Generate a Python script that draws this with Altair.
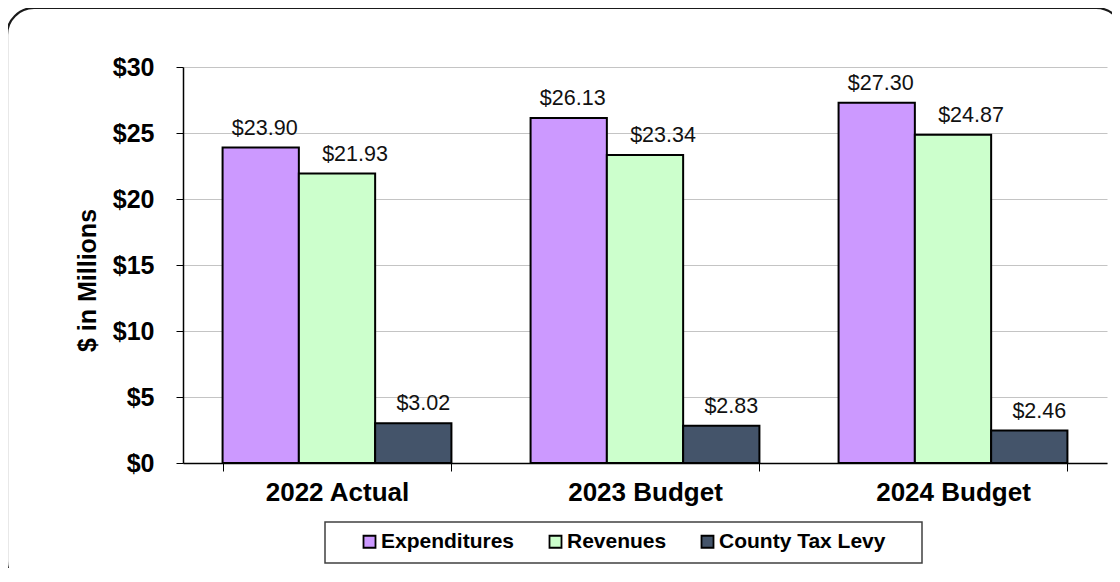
import altair as alt
import pandas as pd

categories = ["2022 Actual", "2023 Budget", "2024 Budget"]
series = ["Expenditures", "Revenues", "County Tax Levy"]
expenditures = [23.90, 26.13, 27.30]
revenues = [21.93, 23.34, 24.87]
tax_levy = [3.02, 2.83, 2.46]
colors = ["#CC99FF", "#CCFFCC", "#44546A"]
y_ticks = [0, 5, 10, 15, 20, 25, 30]

rows = []
for name, vals in zip(series, [expenditures, revenues, tax_levy]):
    for c, v in zip(categories, vals):
        rows.append({"cat": c, "series": name, "value": v})
df = pd.DataFrame(rows)

FONT = "Liberation Sans"

x_enc = alt.X("cat:N", sort=categories,
              scale=alt.Scale(paddingInner=0.257, paddingOuter=0.1285),
              axis=alt.Axis(title=None, labelAngle=0, labelFont=FONT, labelFontSize=26,
                            labelFontWeight="bold", labelColor="black", labelPadding=8,
                            tickBand="extent", tickSize=8, tickColor="black",
                            domainColor="black", domainWidth=1.5, grid=False))
xo_enc = alt.XOffset("series:N", sort=series)
y_enc = alt.Y("value:Q",
              scale=alt.Scale(domain=[0, 30], nice=False),
              axis=alt.Axis(title="$ in Millions", values=y_ticks, format="$d",
                            labelFont=FONT, labelFontSize=25, labelFontWeight="bold",
                            labelColor="black", labelPadding=22, tickSize=7,
                            tickColor="black", domainColor="black", domainWidth=1.5,
                            gridColor="#C4C4C4", gridWidth=1,
                            titleFont=FONT, titleFontSize=25, titleFontWeight="bold",
                            titleColor="black", titlePadding=12, titleY=213))

bars = alt.Chart(df).mark_bar(stroke="black", strokeWidth=2).encode(
    x=x_enc,
    xOffset=xo_enc,
    y=y_enc,
    color=alt.Color("series:N", sort=series,
                    scale=alt.Scale(domain=series, range=colors),
                    legend=alt.Legend(title=None, orient="none", legendX=176, legendY=464,
                                      direction="horizontal", symbolType="square",
                                      symbolSize=144, symbolStrokeColor="black",
                                      symbolStrokeWidth=1.8, symbolOpacity=1,
                                      labelFont=FONT, labelFontSize=21,
                                      labelFontWeight="bold", labelColor="black",
                                      labelOffset=1, columnPadding=30, padding=0,
                                      labelLimit=300)),
)

label_dx = {"Expenditures": 4, "Revenues": 18, "County Tax Levy": 10}
texts = []
for s in series:
    texts.append(
        alt.Chart(df).transform_filter(alt.datum.series == s).mark_text(
            font=FONT, fontSize=21.5, color="#111111", baseline="alphabetic",
            dy=-13, dx=label_dx[s]
        ).encode(
            x=alt.X("cat:N", sort=categories),
            xOffset=alt.XOffset("series:N", sort=series),
            y=alt.Y("value:Q"),
            text=alt.Text("value:Q", format="$.2f"),
        )
    )

deco = pd.DataFrame({"k": [0]})
border = alt.Chart(deco).mark_rect(
    fillOpacity=0, stroke="#1a1a1a", strokeWidth=2.2, cornerRadius=27
).encode(x=alt.value(-176), x2=alt.value(940), y=alt.value(-59), y2=alt.value(521))

legend_box = alt.Chart(deco).mark_rect(
    fillOpacity=0, stroke="#404040", strokeWidth=1.5
).encode(x=alt.value(142), x2=alt.value(739), y=alt.value(455), y2=alt.value(496))

chart = alt.layer(bars, *texts, legend_box, border).properties(
    width=924, height=396,
    padding={"left": 175, "top": 59, "right": 5, "bottom": 105},
    autosize=alt.AutoSizeParams(type="none"),
    background="white",
).configure_view(strokeWidth=0)

chart.save("out.html", embed_options={"renderer": "svg", "actions": False})
